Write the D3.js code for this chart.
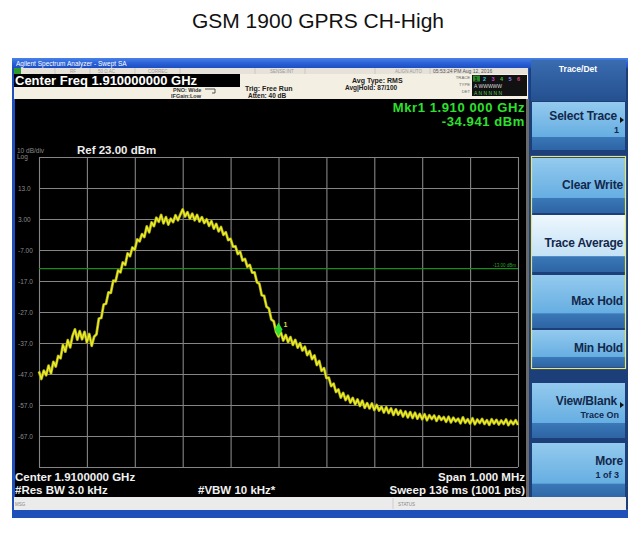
<!DOCTYPE html>
<html><head><meta charset="utf-8">
<script src="https://cdn.jsdelivr.net/npm/d3@7"></script>
<style>body{margin:0;background:#fff;} svg{display:block;font-family:"Liberation Sans",Arial,sans-serif;}</style>
</head><body><svg id="c" width="637" height="533"></svg>
<script>
const chartTitle = "GSM 1900 GPRS CH-High";
const yTickValues = [13, 3, -7, -17, -27, -37, -47, -57, -67];
const yTickLabels = ["13.0", "3.00", "-7.00", "-17.0", "-27.0", "-37.0", "-47.0", "-57.0", "-67.0"];
const refLevelDbm = 23;
const bottomLevelDbm = -77;
const spanStartGHz = 1.9095;
const spanStopGHz = 1.9105;
const xDivisions = [1.9095, 1.9096, 1.9097, 1.9098, 1.9099, 1.9100, 1.9101, 1.9102, 1.9103, 1.9104, 1.9105];
const traceStepGHz = 0.000005;
const traceDbm = [
 -46.2,-48.6,-45.9,-47.4,-44.3,-46.8,-43.1,-44.6,-41.2,-41.9,
 -37.6,-39.8,-36.1,-38.4,-34.7,-32.6,-35.9,-33.2,-35.8,-33.4,
 -36.8,-34.1,-37.9,-35.0,-34.2,-29.1,-28.9,-24.6,-24.3,-20.7,
 -20.8,-16.9,-17.1,-13.6,-14.2,-11.0,-11.8,-8.1,-9.0,-6.2,
 -6.9,-3.6,-4.2,-1.9,-2.8,0.6,-1.3,1.9,0.7,3.4,
 2.1,4.3,1.6,3.6,1.2,3.1,2.0,4.2,2.6,4.4,
 6.1,3.8,5.2,3.1,4.7,2.6,4.3,2.2,3.6,1.7,
 2.9,0.8,2.3,-0.1,1.4,-1.0,0.4,-2.1,-1.3,-3.8,
 -3.4,-5.9,-5.8,-8.3,-7.6,-10.4,-9.9,-12.4,-11.8,-14.3,
 -14.2,-17.4,-17.9,-21.6,-21.8,-25.3,-25.9,-29.4,-30.0,-33.4,
 -34.9,
 -33.6,-36.2,-34.4,-36.7,-35.1,-37.6,-36.0,-38.5,-37.1,-39.4,
 -38.2,-40.9,-39.6,-42.2,-41.0,-44.1,-42.8,-46.0,-45.1,-48.3,
 -48.2,-50.9,-50.1,-52.8,-52.0,-54.6,-53.1,-55.4,-54.0,-56.2,
 -54.7,-56.8,-55.2,-57.3,-55.6,-57.9,-56.4,-58.1,-56.5,-58.6,
 -57.0,-58.8,-57.6,-59.4,-57.7,-59.6,-58.1,-60.2,-58.4,-60.1,
 -58.8,-60.7,-59.1,-61.0,-59.3,-61.2,-59.5,-61.4,-59.9,-61.6,
 -60.0,-61.9,-60.3,-61.5,-60.4,-62.1,-60.6,-61.8,-60.9,-62.4,
 -60.8,-62.6,-61.1,-62.3,-61.4,-62.9,-61.0,-62.7,-61.6,-63.0,
 -61.3,-63.2,-61.7,-62.8,-61.5,-63.1,-61.9,-63.4,-61.6,-63.0,
 -61.8,-63.3,-62.0,-63.1,-61.7,-63.5,-62.1,-63.2,-61.9,-63.4
];
const markerFreqGHz = 1.910;
const markerDbm = -34.941;
const displayLineDbm = -13;
const softkeyLabels = [
  ["Select Trace", "1"], ["Clear Write", ""], ["Trace Average", ""], ["Max Hold", ""],
  ["Min Hold", ""], ["View/Blank", "Trace On"], ["More", "1 of 3"]
];

const svg = d3.select("#c");

// title
svg.append("text").attr("x", 318).attr("y", 28).attr("text-anchor", "middle")
  .attr("font-size", 21).attr("fill", "#111").text(chartTitle);

// --- instrument frame ---
const defs = svg.append("defs");
function grad(id, stops) {
  const g = defs.append("linearGradient").attr("id", id).attr("x1", 0).attr("y1", 0).attr("x2", 0).attr("y2", 1);
  stops.forEach(s => g.append("stop").attr("offset", s[0]).attr("stop-color", s[1]));
}
grad("tbar", [[0, "#4a82e8"], [0.5, "#2a62d8"], [1, "#1d4ec0"]]);
grad("btn", [[0, "#94caee"], [0.72, "#66aee2"], [0.73, "#3a78b8"], [1, "#2d64a4"]]);
grad("btnSel", [[0, "#eef7fd"], [0.72, "#c4e2f6"], [0.73, "#3a78b8"], [1, "#2d64a4"]]);
grad("hdr", [[0, "#3a6cb0"], [1, "#24508f"]]);

svg.append("rect").attr("x", 12).attr("y", 58).attr("width", 616).attr("height", 460).attr("fill", "#1f4fb8");
svg.append("rect").attr("x", 12).attr("y", 58).attr("width", 616).attr("height", 10).attr("fill", "url(#tbar)");
svg.append("text").attr("x", 16).attr("y", 65.5).attr("font-size", 6.5).attr("fill", "#fff").text("Agilent Spectrum Analyzer - Swept SA");

// row 2
svg.append("rect").attr("x", 14).attr("y", 68).attr("width", 514).attr("height", 6).attr("fill", "#e6e2da");
svg.append("rect").attr("x", 14).attr("y", 68).attr("width", 7).attr("height", 6).attr("fill", "#2e9a2e");
[[70, "RF"], [98, "50 Ω   AC"], [148, "CORREC"], [270, "SENSE:INT"], [395, "ALIGN AUTO"]].forEach(d => {
  svg.append("text").attr("x", d[0]).attr("y", 73).attr("font-size", 4.5).attr("fill", "#999").text(d[1]);
});
[55, 90, 135, 180, 255, 305, 375, 430].forEach(x => svg.append("line").attr("x1", x).attr("x2", x).attr("y1", 68).attr("y2", 74).attr("stroke", "#bbb").attr("stroke-width", 0.6));
svg.append("text").attr("x", 433).attr("y", 73).attr("font-size", 5).attr("fill", "#555").text("05:53:24 PM Aug 12, 2016");

// header
svg.append("rect").attr("x", 14).attr("y", 74).attr("width", 514).attr("height", 25).attr("fill", "#f3efe3");
svg.append("rect").attr("x", 14).attr("y", 74).attr("width", 226).attr("height", 13).attr("fill", "#000");
svg.append("text").attr("x", 15).attr("y", 85).attr("font-size", 13).attr("font-weight", "bold").attr("fill", "#fff").text("Center Freq 1.910000000 GHz");
svg.append("text").attr("x", 173).attr("y", 92).attr("font-size", 5.5).attr("font-weight", "bold").attr("fill", "#333").text("PNO: Wide");
svg.append("text").attr("x", 171).attr("y", 98).attr("font-size", 5.5).attr("font-weight", "bold").attr("fill", "#333").text("IFGain:Low");
svg.append("path").attr("d", "M205,89 h10 v4 h-3").attr("fill", "none").attr("stroke", "#333").attr("stroke-width", 0.8);
svg.append("text").attr("x", 245).attr("y", 91).attr("font-size", 7).attr("font-weight", "bold").attr("fill", "#222").text("Trig: Free Run");
svg.append("text").attr("x", 248).attr("y", 98).attr("font-size", 6.5).attr("font-weight", "bold").attr("fill", "#222").text("Atten: 40 dB");
svg.append("text").attr("x", 352).attr("y", 83).attr("font-size", 7).attr("font-weight", "bold").attr("fill", "#222").text("Avg Type: RMS");
svg.append("text").attr("x", 345).attr("y", 90).attr("font-size", 6.5).attr("font-weight", "bold").attr("fill", "#222").text("Avg|Hold: 87/100");
[["TRACE", 79], ["TYPE", 86], ["DET", 93]].forEach(d => svg.append("text").attr("x", 470).attr("y", d[1]).attr("text-anchor", "end").attr("font-size", 4.2).attr("fill", "#666").text(d[0]));
svg.append("rect").attr("x", 472).attr("y", 75).attr("width", 55).attr("height", 21).attr("fill", "#111");
const trColors = ["#e8e820", "#30c8e0", "#d040d0", "#40c040", "#9080ff", "#e04080"];
trColors.forEach((c, i) => {
  if (i === 0) svg.append("rect").attr("x", 473).attr("y", 75.5).attr("width", 7).attr("height", 6).attr("fill", "#2a8a2a");
  svg.append("text").attr("x", 474.5 + i * 8.5).attr("y", 80.5).attr("font-size", 5.5).attr("font-weight", "bold").attr("fill", i === 0 ? "#111" : c).text(i + 1);
});
svg.append("text").attr("x", 474).attr("y", 87.5).attr("font-size", 5).attr("fill", "#ddd").text("A WWWWW");
svg.append("text").attr("x", 474).attr("y", 94.5).attr("font-size", 5).attr("fill", "#5c5").text("A N N N N N");

// display area
svg.append("rect").attr("x", 15).attr("y", 99).attr("width", 512).attr("height", 398).attr("fill", "#000");
svg.append("rect").attr("x", 526).attr("y", 99).attr("width", 3).attr("height", 398).attr("fill", "#6a6a6a");

// right softkey panel
svg.append("rect").attr("x", 529).attr("y", 68).attr("width", 99).attr("height", 441).attr("fill", "#1c3f7a");
svg.append("rect").attr("x", 531).attr("y", 60).attr("width", 95).attr("height", 41).attr("fill", "url(#hdr)");
svg.append("text").attr("x", 578).attr("y", 72).attr("text-anchor", "middle").attr("font-size", 8.5).attr("font-weight", "bold").attr("fill", "#fff").text("Trace/Det");
const keyBoxes = [[102, 150], [158, 213], [215, 272], [275, 328], [330, 367], [383, 438], [443, 499]];
keyBoxes.forEach((b, i) => {
  svg.append("rect").attr("x", 532).attr("y", b[0]).attr("width", 93).attr("height", b[1] - b[0])
    .attr("fill", i === 2 ? "url(#btnSel)" : "url(#btn)");
  const lab = softkeyLabels[i];
  const ty = i === 0 ? 120 : (lab[1] ? b[0] + 22 : b[0] + (b[1] - b[0]) * 0.5 + 3);
  svg.append("text").attr("x", i === 0 || i === 5 ? 617 : 623).attr("y", ty).attr("text-anchor", "end")
    .attr("font-size", 12).attr("font-weight", "bold").attr("letter-spacing", -0.2).attr("fill", "#13284c").text(lab[0]);
  if (lab[1]) svg.append("text").attr("x", 619).attr("y", ty + 13).attr("text-anchor", "end")
    .attr("font-size", 9).attr("font-weight", "bold").attr("fill", "#13284c").text(lab[1]);
  if (i === 0 || i === 5) svg.append("path").attr("d", `M620,${ty - 3} l4,3 l-4,3 z`).attr("fill", "#111");
});
svg.append("rect").attr("x", 531.5).attr("y", 156.5).attr("width", 94).attr("height", 212).attr("fill", "none").attr("stroke", "#e8e870").attr("stroke-width", 1.2);

// status bar
svg.append("rect").attr("x", 14).attr("y", 497).attr("width", 612).attr("height", 13).attr("fill", "#ebebeb");
svg.append("text").attr("x", 15).attr("y", 506).attr("font-size", 4.5).attr("fill", "#888").text("MSG");
svg.append("line").attr("x1", 393).attr("x2", 393).attr("y1", 498).attr("y2", 509).attr("stroke", "#bbb").attr("stroke-width", 0.6);
svg.append("text").attr("x", 398).attr("y", 506).attr("font-size", 4.5).attr("fill", "#888").text("STATUS");

// --- plot ---
const x = d3.scaleLinear().domain([spanStartGHz, spanStopGHz]).range([39, 518]);
const y = d3.scaleLinear().domain([bottomLevelDbm, refLevelDbm]).range([467, 157]);
const g = svg.append("g");

const yAxis = d3.axisLeft(y).tickValues(d3.range(bottomLevelDbm, refLevelDbm + 1, 10)).tickSize(-(518 - 39)).tickFormat("");
const ya = g.append("g").attr("transform", "translate(39,0)").call(yAxis);
ya.select(".domain").remove();
ya.selectAll("line").attr("stroke", "#858585").attr("stroke-width", 1.1);
const xAxis = d3.axisBottom(x).tickValues(xDivisions).tickSize(-(467 - 157)).tickFormat("");
const xa = g.append("g").attr("transform", "translate(0,467)").call(xAxis);
xa.select(".domain").remove();
xa.selectAll("line").attr("stroke", "#858585").attr("stroke-width", 1.1);

// y labels
yTickValues.forEach((v, i) => {
  g.append("text").attr("x", 18).attr("y", y(v) + 2.5).attr("font-size", 6.5).attr("fill", "#8a8a8a").text(yTickLabels[i]);
});
g.append("text").attr("x", 17).attr("y", 152.5).attr("font-size", 6.5).attr("fill", "#8a8a8a").text("10 dB/div");
g.append("text").attr("x", 17).attr("y", 159).attr("font-size", 6.5).attr("fill", "#8a8a8a").text("Log");
g.append("text").attr("x", 77).attr("y", 154).attr("font-size", 11.5).attr("font-weight", "bold").attr("fill", "#eee").text("Ref 23.00 dBm");

// marker readout
g.append("text").attr("x", 525).attr("y", 111.5).attr("text-anchor", "end").attr("font-size", 13).attr("letter-spacing", 0.6).attr("font-weight", "bold").attr("fill", "#2ee02e").text("Mkr1 1.910 000 GHz");
g.append("text").attr("x", 525).attr("y", 126).attr("text-anchor", "end").attr("font-size", 13).attr("letter-spacing", 0.6).attr("font-weight", "bold").attr("fill", "#2ee02e").text(markerDbm.toFixed(3) + " dBm");

// display line
g.append("line").attr("x1", 39).attr("x2", 518).attr("y1", y(displayLineDbm)).attr("y2", y(displayLineDbm)).attr("stroke", "#1e8a1e").attr("stroke-width", 1.2);
g.append("text").attr("x", 516).attr("y", y(displayLineDbm) - 2).attr("text-anchor", "end").attr("font-size", 4.5).attr("fill", "#2aa02a").text(displayLineDbm.toFixed(2) + " dBm");

// trace
const line = d3.line().x((d, i) => x(spanStartGHz + i * traceStepGHz)).y(d => y(d));
g.append("path").datum(traceDbm).attr("d", line).attr("fill", "none").attr("stroke", "#a8a810").attr("stroke-width", 2.8).attr("stroke-linejoin", "round");
g.append("path").datum(traceDbm).attr("d", line).attr("fill", "none").attr("stroke", "#eeee30").attr("stroke-width", 1.3).attr("stroke-linejoin", "round");

// marker
const mx = x(markerFreqGHz), my = y(markerDbm);
g.append("path").attr("d", `M${mx},${my} l-4,-7 l4,-7 l4,7 z`).attr("fill", "#30e030");
g.append("text").attr("x", mx + 5).attr("y", my - 10).attr("font-size", 7).attr("font-weight", "bold").attr("fill", "#d8d840").text("1");

// bottom annotations
const bt = (tx, ty, s, anchor) => g.append("text").attr("x", tx).attr("y", ty).attr("text-anchor", anchor || "start")
  .attr("font-size", 11.5).attr("font-weight", "bold").attr("fill", "#f0f0f0").text(s);
bt(15, 481, "Center 1.9100000 GHz");
bt(15, 494, "#Res BW 3.0 kHz");
bt(198, 494, "#VBW 10 kHz*");
bt(525, 481, "Span 1.000 MHz", "end");
bt(525, 494, "Sweep  136 ms (1001 pts)", "end");
</script></body></html>
